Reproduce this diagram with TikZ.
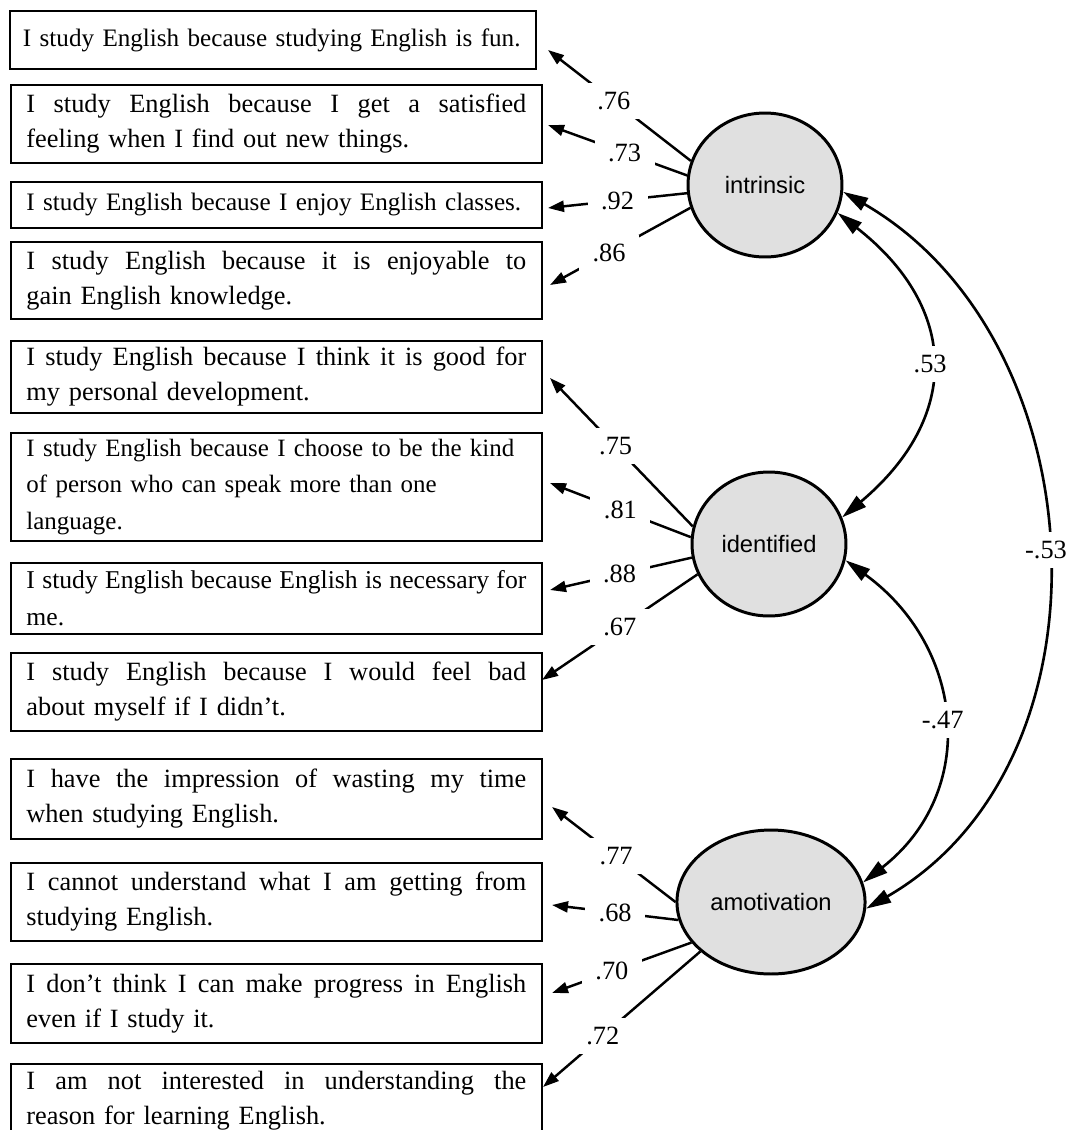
\documentclass[tikz,border=0pt]{standalone}
\usepackage{fontspec}
\setmainfont{Liberation Serif}
\newfontfamily\latentfont{Liberation Sans}
\usetikzlibrary{arrows.meta,shapes.geometric}

\newlength{\itemwd}
\setlength{\itemwd}{10cm}
% full-width line with stretched spaces
\newcommand{\jl}[1]{\hbox to \itemwd{\spaceskip=0.25em plus 1em minus 0.05em\relax #1}}

\tikzset{
  item/.style={draw, line width=1.1pt, anchor=north west, text width=\itemwd,
    inner xsep=0.31cm, inner ysep=1pt, align=left,
    font=\fontsize{15}{20}\selectfont},
  small/.style={font=\fontsize{14.3}{20}\selectfont},
  latent/.style={ellipse, draw, line width=1.7pt, fill=black!12,
    minimum width=3.08cm, minimum height=2.88cm,
    font=\latentfont\fontsize{13.5}{16}\selectfont},
  load/.style={line width=1.4pt, -{Triangle[length=0.32cm,width=0.22cm]}},
  cov/.style={line width=1.5pt,
    {Triangle[length=0.5cm,width=0.28cm]}-{Triangle[length=0.5cm,width=0.28cm]}},
  coef/.style={fill=white, inner sep=0pt, minimum width=1.2cm,
    minimum height=0.72cm, font=\fontsize{15}{17}\selectfont},
}

\begin{document}
\begin{tikzpicture}[x=0.02cm,y=-0.02cm]
  \useasboundingbox (0,0) rectangle (1090,1130);
  \clip (0,0) rectangle (1090,1130);

  % observed items
  \node[item, small, inner xsep=0.26cm, minimum height=1.16cm] (b1) at (9,10)
    {I study English because studying English is fun.};
  \node[item, minimum height=1.56cm] (b2) at (10,84)
    {\jl{I study English because I get a satisfied}\\feeling when I find out new things.};
  \node[item, small, minimum height=0.92cm] (b3) at (10,181)
    {I study English because I enjoy English classes.};
  \node[item, minimum height=1.54cm] (b4) at (10,241)
    {\jl{I study English because it is enjoyable to}\\gain English knowledge.};
  \node[item, minimum height=1.44cm] (b5) at (10,340)
    {\jl{I study English because I think it is good for}\\my personal development.};
  \node[item, font=\fontsize{14.2}{21}\selectfont, minimum height=2.16cm] (b6) at (10,432)
    {I study English because I choose to be the kind\\of person who can speak more than one\\language.};
  \node[item, font=\fontsize{14.6}{21}\selectfont, minimum height=1.42cm] (b7) at (10,562)
    {\jl{I study English because English is necessary for}\\me.};
  \node[item, minimum height=1.56cm] (b8) at (10,652)
    {\jl{I study English because I would feel bad}\\about myself if I didn't.};
  \node[item, minimum height=1.6cm] (b9) at (10,758)
    {\jl{I have the impression of wasting my time}\\when studying English.};
  \node[item, minimum height=1.56cm] (b10) at (10,862)
    {\jl{I cannot understand what I am getting from}\\studying English.};
  \node[item, minimum height=1.58cm] (b11) at (10,963)
    {\jl{I don't think I can make progress in English}\\even if I study it.};
  \node[item, minimum height=1.48cm] (b12) at (10,1063)
    {\jl{I am not interested in understanding the}\\reason for learning English.};

  % latent factors
  \node[latent] (intr) at (765,185) {intrinsic};
  \node[latent] (iden) at (769,544) {identified};
  \node[latent] (amot) at (771,902) {amotivation};

  % arrow tips in front of the items
  \coordinate (t1) at (548,50);
  \coordinate (t2) at (548,125);
  \coordinate (t3) at (548,208);
  \coordinate (t4) at (550,285);
  \coordinate (t5) at (550,378);
  \coordinate (t6) at (550,483);
  \coordinate (t7) at (550,590);
  \coordinate (t8) at (542,680);
  \coordinate (t9) at (552,807);
  \coordinate (t10) at (552,905);
  \coordinate (t11) at (552,993);
  \coordinate (t12) at (543,1087);

  % loadings
  \draw[load] (intr.162) -- node[coef,pos=0.54] {.76} (t1);
  \draw[load] (intr.173) -- node[coef,pos=0.45] {.73} (t2);
  \draw[load] (intr.186) -- node[coef,pos=0.5] {.92} (t3);
  \draw[load] (intr.197) -- node[coef,pos=0.58] {.86} (t4);
  \draw[load] (iden.167) -- node[coef,pos=0.54] {.75} (t5);
  \draw[load] (iden.175) -- node[coef,pos=0.5] {.81} (t6);
  \draw[load] (iden.190) -- node[coef,pos=0.51] {.88} (t7);
  \draw[load] (iden.203) -- node[coef,pos=0.5] {.67} (t8);
  \draw[load] (amot.180) -- node[coef,pos=0.48] {.77} (t9);
  \draw[load] (amot.191) -- node[coef,pos=0.5] {.68} (t10);
  \draw[load] (amot.207) -- node[coef,pos=0.57] {.70} (t11);
  \draw[load] (amot.215) -- node[coef,pos=0.62] {.72} (t12);

  % factor correlations
  \draw[cov] (intr.-21) to[out=-38,in=40,looseness=1.3] node[coef] {.53} (iden.20);
  \draw[cov] (iden.-12) to[out=-36,in=38,looseness=1.17] node[coef] {-.47} (amot.12);
  \draw[cov] (intr.-5) to[out=-30,in=30,looseness=1.05] node[coef] {-.53} (amot.-4);
\end{tikzpicture}
\end{document}
